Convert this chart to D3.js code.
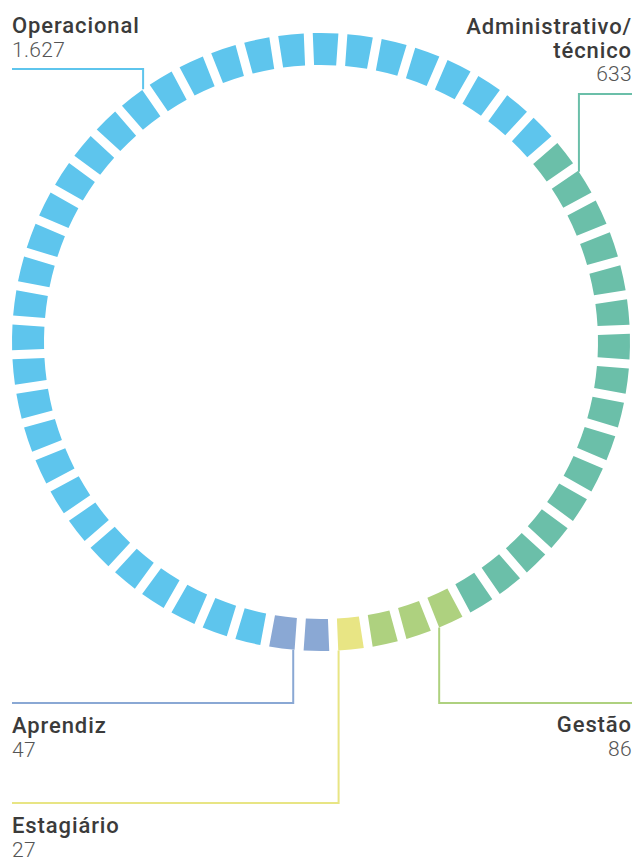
<!DOCTYPE html>
<html>
<head>
<meta charset="utf-8">
<script src="https://cdn.jsdelivr.net/npm/d3@7"></script>
<style>
    html, body { margin: 0; padding: 0; background: #fff; }
    svg { display: block; }
    .lbl { font-family: Roboto, "Open Sans", sans-serif; font-weight: 500; fill: #3b3b3b; letter-spacing: 0.9px; }
    .num { font-family: Roboto, "Open Sans", sans-serif; font-weight: 300; fill: #555; letter-spacing: 0.3px; }
</style>
</head>
<body>
<div id="chart"></div>
<script>
// Categories in clockwise order, starting at the first teal block
var categories = ["Administrativo/técnico", "Gestão", "Estagiário", "Aprendiz", "Operacional"];
var labelLines = [["Administrativo/", "técnico"], ["Gestão"], ["Estagiário"], ["Aprendiz"], ["Operacional"]];
var values = [633, 86, 27, 47, 1627];
// number of blocks each category gets on the ring (as drawn)
var blocks = [16, 3, 1, 2, 34];
var colors = ["#6bbfa9", "#aed17f", "#e8e584", "#8aa8d4", "#5ec5ed"];

var width = 637, height = 861;
var cx = 321, cy = 342;
var outerR = 309, innerR = 277;
var gap = 9;

var totalBlocks = d3.sum(blocks);
var pitch = 2 * Math.PI / totalBlocks;
var startAngle = 7.5 * pitch + 0.85 * Math.PI / 180;

// block position -> angle (clockwise from 12 o'clock)
var angle = d3.scaleLinear()
    .domain([0, totalBlocks])
    .range([startAngle, startAngle + 2 * Math.PI]);

// expand into one record per block
var units = [];
blocks.forEach(function (n, ci) {
    for (var i = 0; i < n; i++) units.push({ cat: ci });
});
units.forEach(function (d, i) { d.i = i; });

var arc = d3.arc()
    .innerRadius(innerR)
    .outerRadius(outerR)
    .padRadius(outerR)
    .padAngle(gap / outerR)
    .startAngle(function (d) { return angle(d.i); })
    .endAngle(function (d) { return angle(d.i + 1); });

var svg = d3.select("#chart").append("svg")
    .attr("width", width)
    .attr("height", height);

svg.append("g")
    .attr("transform", "translate(" + cx + "," + cy + ")")
    .selectAll("path")
    .data(units)
    .enter().append("path")
    .attr("d", arc)
    .attr("fill", function (d) { return colors[d.cat]; });

// leader layout: block position where the line meets the ring, elbow y, side
var leaders = [
    { at: 1.17, y: 94, side: "right", textY: 34 },
    { at: 16.87, y: 703, side: "right", textY: 732 },
    { at: 19.86, y: 803, side: "left", textY: 833 },
    { at: 21.17, y: 703, side: "left", textY: 733 },
    { at: 42.9, y: 69, side: "left", textY: 33 }
];
var leftX = 12, rightX = 632, lineH = 23.5;

leaders.forEach(function (l, ci) {
    var a = angle(l.at);
    var px = cx + outerR * Math.sin(a);
    var py = cy - outerR * Math.cos(a);
    var endX = l.side === "left" ? leftX : rightX;

    svg.append("path")
        .attr("d", d3.line()([[px, py], [px, l.y], [endX, l.y]]))
        .attr("fill", "none")
        .attr("stroke", colors[ci])
        .attr("stroke-width", 2);

    var anchor = l.side === "left" ? "start" : "end";
    var t = svg.append("g");
    labelLines[ci].forEach(function (s, j) {
        t.append("text")
            .attr("class", "lbl")
            .attr("x", endX)
            .attr("y", l.textY + j * lineH)
            .attr("text-anchor", anchor)
            .attr("font-size", 22)
            .text(s);
    });
    t.append("text")
        .attr("class", "num")
        .attr("x", endX)
        .attr("y", l.textY + labelLines[ci].length * lineH)
        .attr("text-anchor", anchor)
        .attr("font-size", 21)
        .text(d3.format(",")(values[ci]).replace(/,/g, "."));
});
</script>
</body>
</html>
